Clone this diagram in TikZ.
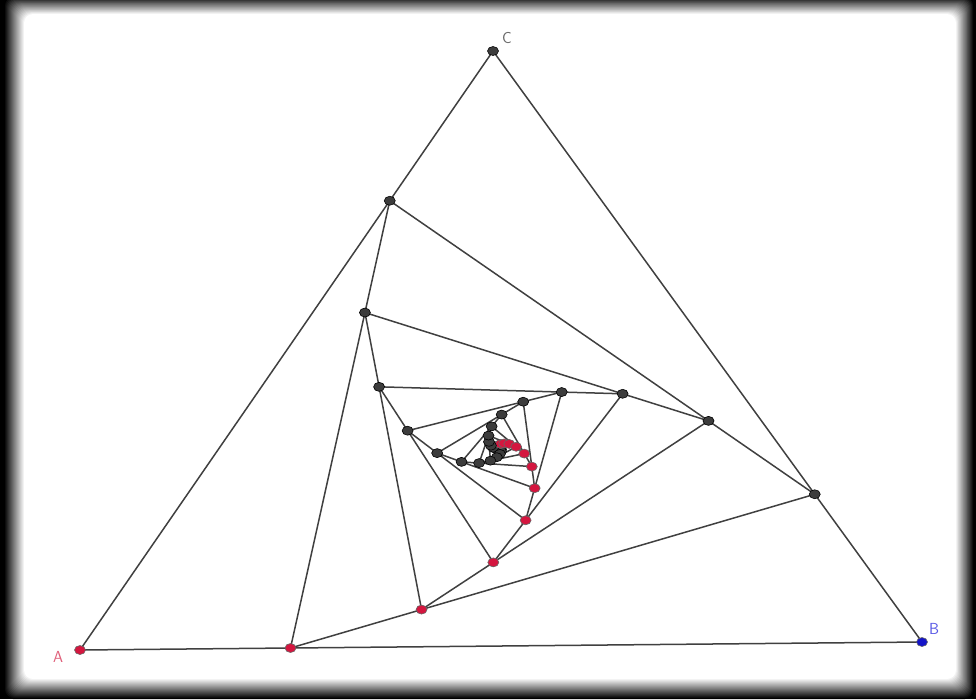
\documentclass[tikz,border=0pt]{standalone}
\usetikzlibrary{calc}
\definecolor{Edge}{HTML}{404040}
\definecolor{PtRed}{HTML}{D4163F}
\definecolor{PtBlue}{HTML}{1414C8}
\definecolor{PtGray}{HTML}{3C3C3C}
\definecolor{LblRed}{HTML}{E0607A}
\definecolor{LblBlue}{HTML}{5A5AE6}
\definecolor{LblGray}{HTML}{6A6A6A}
\tikzset{
  side/.style={Edge,line width=1.5pt,line join=round},
  ptred/.style={fill=PtRed,draw=black!60,line width=0.6pt},
  ptgray/.style={fill=PtGray,draw=black,line width=0.6pt},
  ptblue/.style={fill=PtBlue,draw=black!60,line width=0.6pt},
  lbl/.style={font=\sffamily\fontsize{16}{18}\selectfont,inner sep=0pt}
}

\begin{document}
\begin{tikzpicture}[x=1pt,y=-1pt]
    \useasboundingbox (0,0) rectangle (976,699);
    \clip (0,0) rectangle (976,699);
    % screen frame
    \fill[black] (0,0) rectangle (976,699);
    \foreach \k in {0,...,20} {
      \pgfmathsetmacro\w{\k*5}
      \fill[white!\w!black,rounded corners=9pt]
        (4+1*\k,-4+0.9*\k) rectangle (974-0.9*\k,699-1*\k);
    }

    \coordinate (A0) at (80,650);
    \coordinate (B0) at (922,642);
    \coordinate (C0) at (493,51);
    \foreach \i [evaluate=\i as \j using int(\i-1)] in {1,...,15} {
      \coordinate (A\i) at ($(A\j)!0.25!(B\j)$);
      \coordinate (B\i) at ($(B\j)!0.25!(C\j)$);
      \coordinate (C\i) at ($(C\j)!0.25!(A\j)$);
    }
    \foreach \i in {0,...,15}
      \draw[side] (A\i) -- (B\i) -- (C\i) -- cycle;

    \foreach \i in {15,14,...,1} {
      \filldraw[ptgray] (C\i) ellipse [x radius=5.5pt, y radius=4.5pt];
      \filldraw[ptgray] (B\i) ellipse [x radius=5.5pt, y radius=4.5pt];
      \filldraw[ptred] (A\i) ellipse [x radius=5.5pt, y radius=4.5pt];
    }
    \filldraw[ptred] (A0) ellipse [x radius=5.5pt, y radius=4.5pt];
    \filldraw[ptblue] (B0) ellipse [x radius=5.5pt, y radius=4.5pt];
    \filldraw[ptgray] (C0) ellipse [x radius=5.5pt, y radius=4.5pt];

    \node[lbl,text=LblRed] (labA) at (58,657) {A};
    \node[lbl,text=LblBlue] (labB) at (934,629) {B};
    \node[lbl,text=LblGray] (labC) at (507,38) {C};
\end{tikzpicture}
\end{document}
